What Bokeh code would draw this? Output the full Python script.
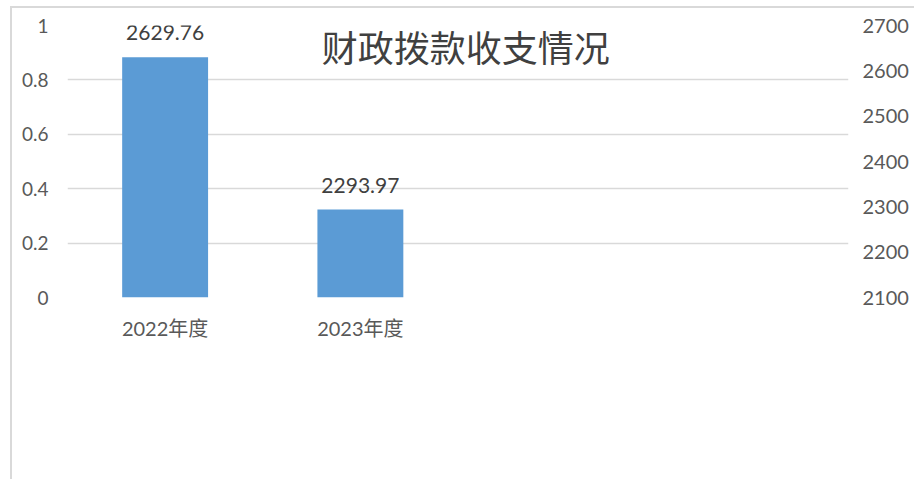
from bokeh.plotting import figure
from bokeh.models import Range1d, LinearAxis, FixedTicker, Label, LabelSet, FactorRange, ColumnDataSource
from bokeh.core.properties import value
from bokeh.embed import file_html
from bokeh.resources import INLINE

# ---- data ----
categories = ["2022年度", "2023年度", " ", "  "]
bar_years = ["2022年度", "2023年度"]
bar_values = [2629.76, 2293.97]
bar_labels = ["2629.76", "2293.97"]
left_ticks = [0, 0.2, 0.4, 0.6, 0.8, 1]
left_tick_labels = ["0", "0.2", "0.4", "0.6", "0.8", "1"]
right_ticks = [2100, 2200, 2300, 2400, 2500, 2600, 2700]
title_text = "财政拨款收支情况"

FONT = "Lato, 'Noto Sans CJK SC', sans-serif"
TXT = "#595959"
GRID = "#d9d9d9"
BAR = "#5B9BD5"

p = figure(x_range=FactorRange(*categories, range_padding=0),
           y_range=Range1d(0, 1),
           width=904, height=473,
           frame_width=781, frame_height=272,
           min_border_left=55, min_border_top=17, min_border_right=66, min_border_bottom=182,
           output_backend="svg", toolbar_location=None)
p.margin = (6, 0, 0, 10)
p.styles = {"border-left": "2px solid #d9d9d9", "border-top": "2px solid #d9d9d9"}
p.outline_line_color = None
p.background_fill_color = "white"
p.border_fill_color = "white"

p.extra_y_ranges = {"r": Range1d(2100, 2700)}

# left axis
la = p.yaxis[0]
la.ticker = FixedTicker(ticks=left_ticks)
la.major_label_overrides = {t: s for t, s in zip(left_ticks, left_tick_labels)}
la.axis_line_color = None
la.major_tick_line_color = None
la.major_tick_out = 0
la.minor_tick_line_color = None
la.major_label_text_font = FONT
la.major_label_text_font_size = "19px"
la.major_label_text_color = TXT
la.major_label_standoff = 19

# right axis
ra = LinearAxis(y_range_name="r", ticker=FixedTicker(ticks=right_ticks))
ra.axis_line_color = None
ra.major_tick_line_color = None
ra.major_tick_out = 0
ra.minor_tick_line_color = None
ra.major_label_text_font = FONT
ra.major_label_text_font_size = "20px"
ra.major_label_text_color = TXT
ra.major_label_standoff = 14
p.add_layout(ra, "right")

# x axis
xa = p.xaxis[0]
xa.axis_line_color = None
xa.major_tick_line_color = None
xa.major_tick_out = 0
xa.major_label_text_font = FONT
xa.major_label_text_font_size = "20px"
xa.major_label_text_color = TXT
xa.major_label_standoff = 18

p.xgrid.grid_line_color = None
p.ygrid.grid_line_color = GRID
p.ygrid.grid_line_width = 1.5

src = ColumnDataSource(dict(x=bar_years, top=bar_values, lab=bar_labels))
p.vbar(x="x", top="top", bottom=2100, width=0.44, source=src, y_range_name="r",
       fill_color=BAR, line_color=None)
p.add_layout(LabelSet(x="x", y="top", text="lab", source=src, y_range_name="r",
                      text_align="center", text_baseline="bottom", y_offset=17,
                      text_font=value(FONT), text_font_size=value("21px"), text_color=value("#404040")))

p.add_layout(Label(x=2.04, y=0.925, text=title_text, text_align="center", text_baseline="middle",
                   text_font="Noto Sans CJK SC", text_font_size="36px", text_font_style="normal",
                   text_color="#404040"))

open("out.html", "w").write(file_html(p, INLINE))
